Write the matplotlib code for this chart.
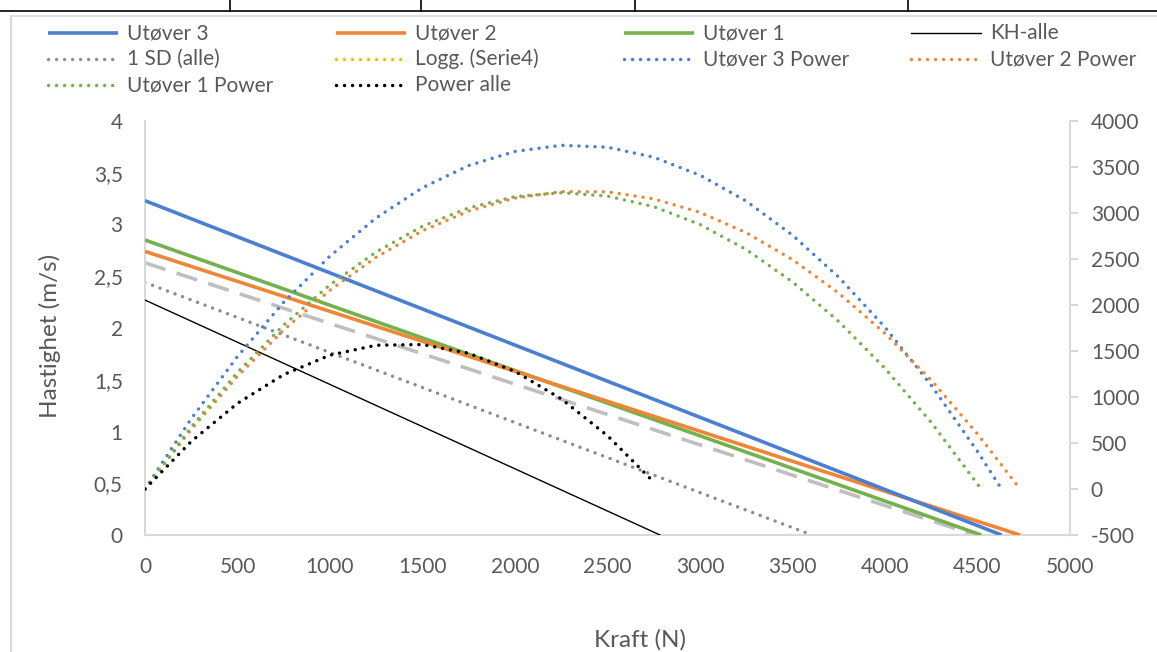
import matplotlib.pyplot as plt
from matplotlib.lines import Line2D
from matplotlib.ticker import FuncFormatter, MultipleLocator

# Kraft-hastighet (primary axis): endpoints of each linear profile
kraft_u3 = [0, 4630]
hast_u3 = [3.23, 0]
kraft_u2 = [0, 4730]
hast_u2 = [2.74, 0]
kraft_u1 = [0, 4520]
hast_u1 = [2.85, 0]
kraft_kh = [0, 2784]
hast_kh = [2.27, 0]
kraft_sd = [0, 3605]
hast_sd = [2.44, 0]
kraft_snitt = [0, 4486]
hast_snitt = [2.63, 0]

# Power (secondary axis)
kraft_p = [0, 250, 500, 750, 1000, 1250, 1500, 1750, 2000, 2250, 2500,
           2750, 3000, 3250, 3500, 3750, 4000, 4250, 4500]
power_u3 = [0, 764, 1441, 2030, 2532, 2947, 3275, 3516, 3669, 3736, 3715,
            3606, 3411, 3129, 2759, 2302, 1758, 1127, 408]
kraft_p_u3_end = 4630
power_u2 = [0, 649, 1225, 1729, 2161, 2520, 2807, 3021, 3163, 3232, 3230,
            3154, 3007, 2786, 2494, 2129, 1691, 1182, 599]
kraft_p_u2_end = 4730
power_u1 = [0, 673, 1267, 1783, 2220, 2577, 2856, 3056, 3178, 3220, 3184,
            3069, 2875, 2603, 2251, 1821, 1311, 723]
kraft_p_u1_end = 4520
kraft_pa = [0, 250, 500, 750, 1000, 1250, 1500, 1750, 2000, 2250, 2500, 2750]
power_alle = [0, 517, 931, 1244, 1455, 1563, 1570, 1475, 1278, 980, 579, 76]

blue = '#4a7fd1'
orange = '#ee8636'
green = '#74b14c'
yellow = '#ffc000'
tekst = '#595959'
akse = '#d9d9d9'

plt.rcParams['font.family'] = ['Lato', 'DejaVu Sans']
plt.rcParams['axes.unicode_minus'] = False

W, H = 1157, 652
fig = plt.figure(figsize=(W / 100, H / 100), dpi=100)

ax = fig.add_axes([145 / W, (H - 535) / H, 925 / W, 414 / H])
ax2 = ax.twinx()

solid = dict(linewidth=2.6, solid_capstyle='butt')
dot = dict(linewidth=2.5, linestyle=(0, (0.01, 2.3)), dash_capstyle='round')

ax.plot(kraft_snitt, hast_snitt, color='#bfbfbf', linewidth=2.6,
        linestyle=(0, (6, 3.2)), dash_capstyle='butt', zorder=2)
ax.plot(kraft_sd, hast_sd, color='#8c8c8c', **dot, zorder=2)
ax.plot(kraft_kh, hast_kh, color='black', linewidth=1.0, zorder=3)
ax.plot(kraft_u1, hast_u1, color=green, **solid, zorder=4)
ax.plot(kraft_u2, hast_u2, color=orange, **solid, zorder=4)
ax.plot(kraft_u3, hast_u3, color=blue, **solid, zorder=4)

ax2.plot(kraft_p + [kraft_p_u3_end], power_u3 + [0], color=blue, **dot)
ax2.plot(kraft_p + [kraft_p_u2_end], power_u2 + [0], color=orange, **dot)
ax2.plot(kraft_p[:len(power_u1)] + [kraft_p_u1_end], power_u1 + [0],
         color=green, **dot)
ax2.plot(kraft_pa, power_alle, color='black', **dot)

ax.set_xlim(0, 5000)
ax.set_ylim(0, 4)
ax2.set_ylim(-500, 4000)
ax.xaxis.set_major_locator(MultipleLocator(500))
ax.yaxis.set_major_locator(MultipleLocator(0.5))
ax2.yaxis.set_major_locator(MultipleLocator(500))
ax.yaxis.set_major_formatter(FuncFormatter(lambda v, p: f'{v:g}'.replace('.', ',')))

for a in (ax, ax2):
    for s in a.spines.values():
        s.set_visible(False)
ax.spines['left'].set_visible(True)
ax.spines['bottom'].set_visible(True)
ax2.spines['right'].set_visible(True)
for s in (ax.spines['left'], ax.spines['bottom'], ax2.spines['right']):
    s.set_color(akse)
    s.set_linewidth(1.5)

ax.tick_params(axis='x', length=0, pad=16, labelsize=15, labelcolor=tekst)
ax.tick_params(axis='y', length=0, pad=16, labelsize=15, labelcolor=tekst)
ax2.tick_params(axis='y', length=6, width=1.5, color=akse, pad=9,
                labelsize=15, labelcolor=tekst)

fig.text(50 / W, 1 - 336 / H, 'Hastighet (m/s)', rotation=90, fontsize=17.5,
         color=tekst, ha='center', va='center')
fig.text(640 / W, 1 - 640 / H, 'Kraft (N)', fontsize=17.5, color=tekst,
         ha='center', va='center')

# legend, row by row in four columns
legend_items = [
    ('Utøver 3', dict(color=blue, **solid)),
    ('Utøver 2', dict(color=orange, **solid)),
    ('Utøver 1', dict(color=green, **solid)),
    ('KH-alle', dict(color='black', linewidth=1.0)),
    ('1 SD (alle)', dict(color='#8c8c8c', **dot)),
    ('Logg. (Serie4)', dict(color=yellow, **dot)),
    ('Utøver 3 Power', dict(color=blue, **dot)),
    ('Utøver 2 Power', dict(color=orange, **dot)),
    ('Utøver 1 Power', dict(color=green, **dot)),
    ('Power alle', dict(color='black', **dot)),
]
col_x = [48, 336, 624, 911]
row_y = [33, 59, 85]
for i, (label, style) in enumerate(legend_items):
    x0 = col_x[i % 4]
    y0 = row_y[i // 4]
    fig.add_artist(Line2D([x0 / W, (x0 + 70) / W], [1 - y0 / H, 1 - y0 / H],
                          transform=fig.transFigure, **style))
    fig.text((x0 + 79) / W, 1 - y0 / H, label, fontsize=15, color=tekst,
             ha='left', va='center')

# surrounding table borders
fig.add_artist(Line2D([0, 1], [1 - 11 / H, 1 - 11 / H], color='black',
                      linewidth=1.2, transform=fig.transFigure))
for xv in [230, 421, 635, 908]:
    fig.add_artist(Line2D([xv / W, xv / W], [1 - 11 / H, 1], color='black',
                          linewidth=1.2, transform=fig.transFigure))
fig.add_artist(Line2D([11 / W, 1], [1 - 16 / H, 1 - 16 / H], color=akse,
                      linewidth=1.2, transform=fig.transFigure))
fig.add_artist(Line2D([11 / W, 11 / W], [0, 1 - 16 / H], color=akse,
                      linewidth=1.5, transform=fig.transFigure))

fig.savefig('out.png', dpi=100)
